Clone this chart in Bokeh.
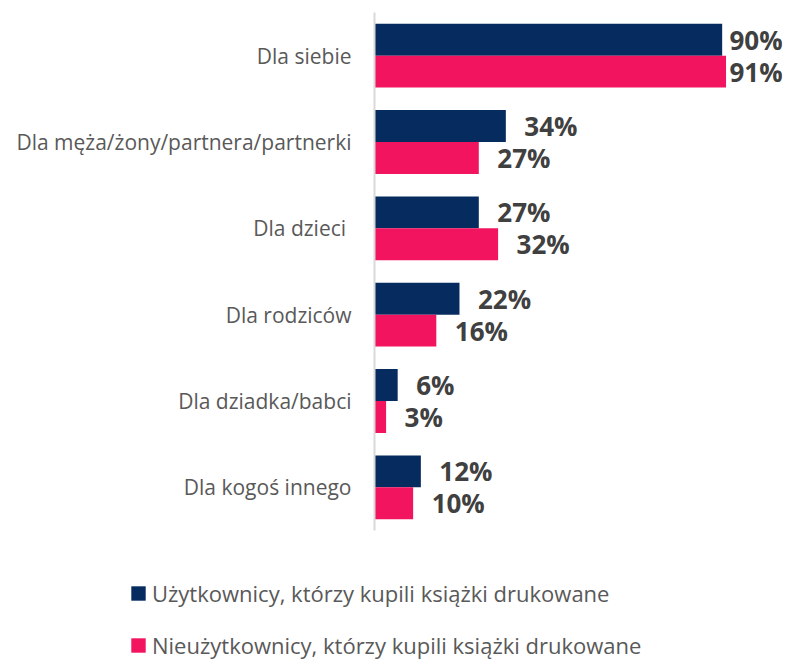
from bokeh.plotting import figure
from bokeh.models import FactorRange, ColumnDataSource, Legend, LegendItem, Range1d
from bokeh.transform import dodge
from bokeh.core.properties import value
from bokeh.embed import file_html
from bokeh.resources import INLINE

categories = ["Dla siebie", "Dla męża/żony/partnera/partnerki", "Dla dzieci ",
              "Dla rodziców", "Dla dziadka/babci", "Dla kogoś innego"]
users = [90, 34, 27, 22, 6, 12]
nonusers = [91, 27, 32, 16, 3, 10]
series_names = ["Użytkownicy, którzy kupili książki drukowane",
                "Nieużytkownicy, którzy kupili książki drukowane"]

NAVY = "#062c5f"
PINK = "#f2145f"
FONT = "Open Sans"
NAN = float("nan")

W = 784
H1, H2 = 540, 120
left_b = 374
top_b = 12
bottom_b = 10
scale = 3.863          # px per percent
frame_w = W - left_b - 2
x_end = frame_w / scale
label_gap = 18.5 / scale
label_max = (729 - left_b) / scale

def label_x(v):
    return min(v + label_gap, label_max)

src = ColumnDataSource(dict(
    cat=categories,
    users=users,
    nonusers=nonusers,
    ux=[label_x(v) for v in users],
    nx=[label_x(v) for v in nonusers],
    ulab=[f"{v}%" for v in users],
    nlab=[f"{v}%" for v in nonusers],
))

p = figure(width=W, height=H1, output_backend="svg", toolbar_location=None,
           y_range=FactorRange(*reversed(categories)), x_range=Range1d(0, x_end),
           min_border_left=left_b, min_border_right=2,
           min_border_top=top_b, min_border_bottom=bottom_b)
p.outline_line_color = None
p.grid.visible = False
p.xaxis.visible = False

ax = p.yaxis[0]
ax.axis_line_color = "#d9d9d9"
ax.axis_line_width = 2
ax.major_tick_line_color = None
ax.minor_tick_line_color = None
ax.major_tick_out = 0
ax.major_tick_in = 0
ax.major_label_standoff = 23
ax.major_label_text_font = FONT
ax.major_label_text_font_size = "21px"
ax.major_label_text_color = "#595959"

off = 0.185
p.hbar(y=dodge("cat", off, range=p.y_range), right="users", left=0, height=0.37,
       fill_color=NAVY, line_color=None, source=src)
p.hbar(y=dodge("cat", -off, range=p.y_range), right="nonusers", left=0, height=0.37,
       fill_color=PINK, line_color=None, source=src)

for xcol, tcol, o in (("ux", "ulab", off), ("nx", "nlab", -off)):
    p.text(x=xcol, y=dodge("cat", o, range=p.y_range), text=tcol, source=src,
           text_font=value(FONT), text_font_style="bold", text_font_size="26px",
           text_color="#404040", text_baseline="middle", text_align="left")

# legend panel (separate root, so it is not frame-aligned with the chart)
p2 = figure(width=W, height=H2, output_backend="svg", toolbar_location=None,
            x_range=Range1d(0, W), y_range=Range1d(0, H2),
            min_border_left=0, min_border_right=0, min_border_top=0, min_border_bottom=0)
p2.outline_line_color = None
p2.grid.visible = False
p2.axis.visible = False
g1 = p2.hbar(y=[NAN], right=[NAN], left=0, height=1, fill_color=NAVY, line_color=None)
g2 = p2.hbar(y=[NAN], right=[NAN], left=0, height=1, fill_color=PINK, line_color=None)

legend = Legend(items=[LegendItem(label=series_names[0], renderers=[g1]),
                       LegendItem(label=series_names[1], renderers=[g2])],
                location=(129, 0), orientation="vertical",
                glyph_width=18, glyph_height=18, label_standoff=5,
                label_height=30, spacing=22, padding=0, margin=0,
                border_line_color=None, background_fill_alpha=0,
                label_text_font=FONT, label_text_font_size="22px",
                label_text_color="#595959")
p2.add_layout(legend, "center")

open("out.html", "w").write(file_html([p, p2], INLINE))
